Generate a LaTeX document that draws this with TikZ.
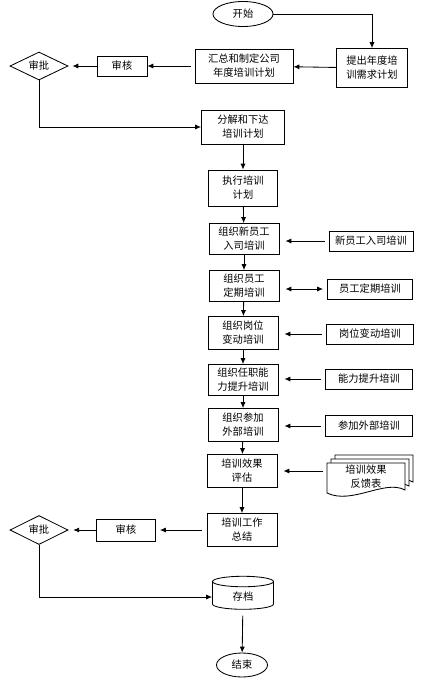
\documentclass[tikz,border=0pt]{standalone}
\usepackage{fontspec}
\setmainfont{Noto Sans CJK SC}
\usetikzlibrary{arrows.meta,shapes.geometric,shadows}
\tikzset{
  box/.style={draw, fill=white, align=center, inner sep=1pt,
    drop shadow={shadow xshift=0.6pt, shadow yshift=-0.6pt, fill=black!70, opacity=1}},
  sidebox/.style={draw, fill=white, align=center, inner sep=1pt},
  decide/.style={draw, diamond, aspect=2, inner sep=0pt},
  term/.style={draw, ellipse, inner sep=0pt}
}
\begin{document}
\begin{tikzpicture}[x=0.025cm, y=-0.025cm, line width=0.6pt,
  font=\fontsize{7.3}{10}\selectfont, >={Latex[length=4.2pt,width=3.6pt]}]
\useasboundingbox (0,0) rectangle (422,679);
% Top row
\node[term, minimum width=1.5cm, minimum height=0.625cm] (start) at (243,14) {开始};
\node[box, minimum width=1.775cm, minimum height=0.975cm] (propose) at (372,68) {提出年度培\\训需求计划};
\node[box, minimum width=2.45cm, minimum height=0.85cm] (collect) at (244,66) {汇总和制定公司\\年度培训计划};
\node[sidebox, minimum width=1.25cm, minimum height=0.5cm] (review1) at (122,66) {审核};
\node[decide, minimum width=1.45cm, minimum height=0.7cm] (approve1) at (39,66) {审批};
% Main column
\node[box, minimum width=2.075cm, minimum height=0.85cm] (split) at (243,127) {分解和下达\\培训计划};
\node[box, minimum width=1.725cm, minimum height=0.9cm] (execute) at (243,188) {执行培训\\计划};
\node[box, minimum width=1.75cm, minimum height=0.775cm] (org1) at (244,239) {组织新员工\\入司培训};
\node[box, minimum width=1.75cm, minimum height=0.775cm] (org2) at (244,286) {组织员工\\定期培训};
\node[box, minimum width=1.75cm, minimum height=0.825cm] (org3) at (243,333) {组织岗位\\变动培训};
\node[box, minimum width=1.75cm, minimum height=0.775cm] (org4) at (243,380) {组织任职能\\力提升培训};
\node[box, minimum width=1.75cm, minimum height=0.825cm] (org5) at (243,425) {组织参加\\外部培训};
\node[box, minimum width=1.75cm, minimum height=0.825cm] (assess) at (242,471) {培训效果\\评估};
\node[box, minimum width=1.75cm, minimum height=0.825cm] (summary) at (242,530) {培训工作\\总结};
% Side boxes
\node[sidebox, minimum width=2.1cm, minimum height=0.5cm] (side1) at (371,241) {新员工入司培训};
\node[sidebox, minimum width=2.125cm, minimum height=0.5cm] (side2) at (370,289) {员工定期培训};
\node[sidebox, minimum width=2.175cm, minimum height=0.5cm] (side3) at (370,334) {岗位变动培训};
\node[sidebox, minimum width=2.175cm, minimum height=0.5cm] (side4) at (369,379) {能力提升培训};
\node[sidebox, minimum width=2.175cm, minimum height=0.525cm] (side5) at (369,426) {参加外部培训};
% Feedback document stack
\foreach \d in {8,4,0}
  \draw[fill=white, shift={(\d,-\d)}] (327,463) -- (405,463) -- (405,490)
    .. controls (385,479) and (352,505) .. (327,493) -- cycle;
\node[minimum width=1.95cm, inner sep=0pt, align=center] (feedback) at (366,477) {培训效果\\反馈表};
% Bottom row
\node[sidebox, minimum width=1.475cm, minimum height=0.55cm] (review2) at (126,530) {审核};
\node[decide, minimum width=1.45cm, minimum height=0.725cm] (approve2) at (39,530) {审批};
\node[draw, cylinder, shape border rotate=90, aspect=0.35, minimum width=1.525cm, minimum height=0.825cm] (archive) at (243,597) {存档};
\node[term, minimum width=1.275cm, minimum height=0.6cm] (finish) at (242,665) {结束};
% Connectors
\draw[->] (start) -| (propose);
\draw[->] (propose) -- (collect);
\draw[->, shorten <=1mm] (collect) -- (review1);
\draw[->, shorten >=1mm] (review1) -- (approve1);
\draw[->] (approve1.south) |- (split.west);
\draw[->] (split) -- (execute);
\draw[->] (execute) -- (org1);
\draw[->] (org1) -- (org2);
\draw[->] (org2) -- (org3);
\draw[->] (org3) -- (org4);
\draw[->] (org4) -- (org5);
\draw[->] (org5) -- (assess);
\draw[->] (assess) -- (summary);
\draw[->, shorten <=1mm, shorten >=1.5mm] (side1.west) -- (org1.east |- side1.west);
\draw[<->, shorten <=1.5mm, shorten >=1mm] (org2.east |- side2.west) -- (side2.west);
\draw[->, shorten <=1mm, shorten >=1.5mm] (side3.west) -- (org3.east |- side3.west);
\draw[->, shorten <=1mm, shorten >=1.5mm] (side4.west) -- (org4.east |- side4.west);
\draw[->, shorten <=1mm, shorten >=1.5mm] (side5.west) -- (org5.east |- side5.west);
\draw[->, shorten <=1mm, shorten >=1.5mm] (feedback.west |- assess.east) -- (assess.east);
\draw[->, shorten <=1.2mm, shorten >=1mm] (summary) -- (review2);
\draw[->, shorten >=1.2mm] (review2) -- (approve2);
\draw[->] (approve2.south) |- (archive.west);
\draw[->, shorten <=1.5mm] (archive) -- (finish);
\end{tikzpicture}
\end{document}
